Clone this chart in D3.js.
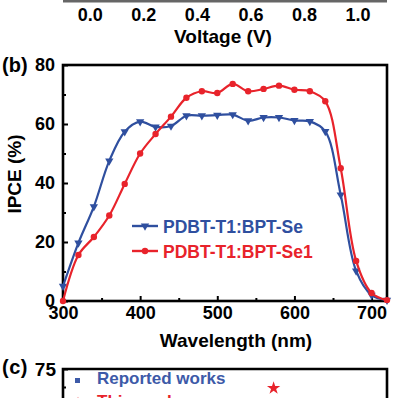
<!DOCTYPE html>
<html>
<head>
<meta charset="utf-8">
<script src="https://cdn.jsdelivr.net/npm/d3@7"></script>
<style>
  body { margin: 0; background: #fff; }
  svg text { font-family: "Liberation Sans", Arial, sans-serif; font-weight: bold; }
</style>
</head>
<body>
<div id="chart"></div>
<script>
// IPCE data
var wavelength = [300, 320, 340, 360, 380, 400, 420, 440, 460, 480, 500, 520, 540, 560, 580, 600, 620, 640, 660, 680, 700, 720];
var ipceSe  = [5, 19.7, 32, 47.5, 57.4, 60.8, 59, 59.3, 62.8, 62.8, 63.0, 63.2, 61.1, 62.2, 62.2, 61.2, 60.9, 57.5, 36, 10.2, 2, 0.3];
var ipceSe1 = [0, 15.6, 21.7, 29, 39.7, 50, 56.6, 62.5, 68.9, 71.1, 70.5, 73.6, 71.1, 71.9, 73.0, 71.6, 71.1, 67.7, 45, 13.6, 2.7, 0.3];
var seriesNames = ["PDBT-T1:BPT-Se", "PDBT-T1:BPT-Se1"];

// tick labels
var voltageTicks = [0.0, 0.2, 0.4, 0.6, 0.8, 1.0];
var wlTicks = [300, 400, 500, 600, 700];
var wlMinor = [350, 450, 550, 650];
var ipceTicks = [0, 20, 40, 60, 80];
var ipceMinor = [10, 30, 50, 70];
var cTicks = [75, 72];
var cMinor = [73.5];

// panel (c), only the top is visible
var legendC = ["Reported works", "This work"];
var thisWork = [6.5, 73.4];

var blue = "#2f4f9f", red = "#e8232b";

var svg = d3.select("#chart").append("svg")
    .attr("width", 398)
    .attr("height", 398);

// ---- panel (a) bottom edge ----
var xA = d3.scaleLinear().domain([-0.1, 1.11]).range([63, 387]);
svg.append("line")
    .attr("x1", 63).attr("x2", 387).attr("y1", 1).attr("y2", 1)
    .attr("stroke", "#666").attr("stroke-width", 3);
svg.append("g")
    .call(d3.axisBottom(xA).tickValues(voltageTicks).tickSize(0).tickPadding(8).tickFormat(d3.format(".1f")))
    .call(g => g.select(".domain").remove())
    .selectAll("text").attr("font-size", 18).attr("fill", "#000");
svg.append("text")
    .attr("x", 223).attr("y", 43)
    .attr("text-anchor", "middle")
    .attr("font-size", 19)
    .text("Voltage (V)");

// ---- panel (b) ----
var x = d3.scaleLinear().domain([300, 720]).range([63, 387]);
var y = d3.scaleLinear().domain([0, 80]).range([301, 65]);

svg.append("g")
    .attr("transform", "translate(0,301)")
    .call(d3.axisBottom(x).tickValues(wlTicks).tickSize(-5).tickSizeOuter(0).tickPadding(5))
    .call(g => g.select(".domain").remove())
    .call(g => g.selectAll("line").attr("stroke-width", 2))
    .selectAll("text").attr("font-size", 18).attr("fill", "#000");
svg.append("g")
    .attr("transform", "translate(0,301)")
    .call(d3.axisBottom(x).tickValues(wlMinor).tickSize(-3).tickFormat(""))
    .call(g => g.select(".domain").remove())
    .call(g => g.selectAll("line").attr("stroke-width", 2));

svg.append("g")
    .attr("transform", "translate(63,0)")
    .call(d3.axisLeft(y).tickValues(ipceTicks).tickSize(-5).tickSizeOuter(0).tickPadding(8))
    .call(g => g.select(".domain").remove())
    .call(g => g.selectAll("line").attr("stroke-width", 2))
    .selectAll("text").attr("font-size", 18).attr("fill", "#000");
svg.append("g")
    .attr("transform", "translate(63,0)")
    .call(d3.axisLeft(y).tickValues(ipceMinor).tickSize(-3).tickFormat(""))
    .call(g => g.select(".domain").remove())
    .call(g => g.selectAll("line").attr("stroke-width", 2));

svg.append("rect")
    .attr("x", 63).attr("y", 65)
    .attr("width", 324).attr("height", 236)
    .attr("fill", "none").attr("stroke", "#000").attr("stroke-width", 2.6);

var line = d3.line()
    .x((d, i) => x(wavelength[i]))
    .y(d => y(d))
    .curve(d3.curveCatmullRom.alpha(0.5));

var tri = d3.symbol().type(d3.symbolTriangle).size(30);

function drawSeries(vals, color, marker) {
    svg.append("path")
        .datum(vals)
        .attr("d", line)
        .attr("fill", "none")
        .attr("stroke", color)
        .attr("stroke-width", 2.2);
    var pts = svg.append("g").selectAll("g")
        .data(vals)
        .enter().append("g")
        .attr("transform", (d, i) => "translate(" + x(wavelength[i]) + "," + y(d) + ")");
    if (marker === "tri") {
        pts.append("path").attr("d", tri).attr("transform", "rotate(180)").attr("fill", color);
    } else {
        pts.append("circle").attr("r", 3.2).attr("fill", color);
    }
}
drawSeries(ipceSe, blue, "tri");
drawSeries(ipceSe1, red, "circle");

// legend (b)
var leg = [{name: seriesNames[0], color: blue, m: "tri", y: 226},
           {name: seriesNames[1], color: red, m: "circle", y: 251}];
leg.forEach(function (d) {
    svg.append("line")
        .attr("x1", 132).attr("x2", 158).attr("y1", d.y).attr("y2", d.y)
        .attr("stroke", d.color).attr("stroke-width", 2.4);
    if (d.m === "tri") {
        svg.append("path").attr("d", tri)
            .attr("transform", "translate(145," + d.y + ") rotate(180)")
            .attr("fill", d.color);
    } else {
        svg.append("circle").attr("cx", 145).attr("cy", d.y).attr("r", 3.2).attr("fill", d.color);
    }
    svg.append("text")
        .attr("x", 163).attr("y", d.y + 6.5)
        .attr("font-size", 17.5)
        .attr("fill", d.color)
        .text(d.name);
});

svg.append("text")
    .attr("x", 236).attr("y", 347)
    .attr("text-anchor", "middle")
    .attr("font-size", 19)
    .text("Wavelength (nm)");
svg.append("text")
    .attr("transform", "translate(21,174) rotate(-90)")
    .attr("text-anchor", "middle")
    .attr("font-size", 19)
    .text("IPCE (%)");
svg.append("text")
    .attr("x", 2).attr("y", 72)
    .attr("font-size", 20)
    .text("(b)");

// ---- panel (c) top ----
var xC = d3.scaleLinear().domain([0, 10]).range([63, 387]);
var yC = d3.scaleLinear().domain([72, 75]).range([405, 369]);

svg.append("g")
    .attr("transform", "translate(63,0)")
    .call(d3.axisLeft(yC).tickValues(cTicks).tickSize(-5).tickSizeOuter(0).tickPadding(7).tickFormat(d3.format("d")))
    .call(g => g.select(".domain").remove())
    .call(g => g.selectAll("line").attr("stroke-width", 2))
    .selectAll("text").attr("font-size", 19).attr("fill", "#000");
svg.append("g")
    .attr("transform", "translate(63,0)")
    .call(d3.axisLeft(yC).tickValues(cMinor).tickSize(-3).tickFormat(""))
    .call(g => g.select(".domain").remove())
    .call(g => g.selectAll("line").attr("stroke-width", 2));

svg.append("path")
    .attr("d", "M63,400V369H387V400")
    .attr("fill", "none").attr("stroke", "#000").attr("stroke-width", 2.6);

svg.append("text")
    .attr("x", 2).attr("y", 374)
    .attr("font-size", 20)
    .attr("letter-spacing", 0.5)
    .text("(c)");

var star = d3.symbol().type(d3.symbolStar);
svg.append("path")
    .attr("d", star.size(55))
    .attr("transform", "translate(" + xC(thisWork[0]) + "," + yC(thisWork[1]) + ")")
    .attr("fill", red);

svg.append("rect")
    .attr("x", 75).attr("y", 378).attr("width", 5).attr("height", 5)
    .attr("fill", "#3d5aa8");
svg.append("text")
    .attr("x", 97).attr("y", 384)
    .attr("font-size", 17)
    .attr("fill", "#3d5aa8")
    .text(legendC[0]);
svg.append("path")
    .attr("d", star.size(30))
    .attr("transform", "translate(78,402)")
    .attr("fill", red);
svg.append("text")
    .attr("x", 97).attr("y", 407)
    .attr("font-size", 17)
    .attr("fill", red)
    .text(legendC[1]);
</script>
</body>
</html>
